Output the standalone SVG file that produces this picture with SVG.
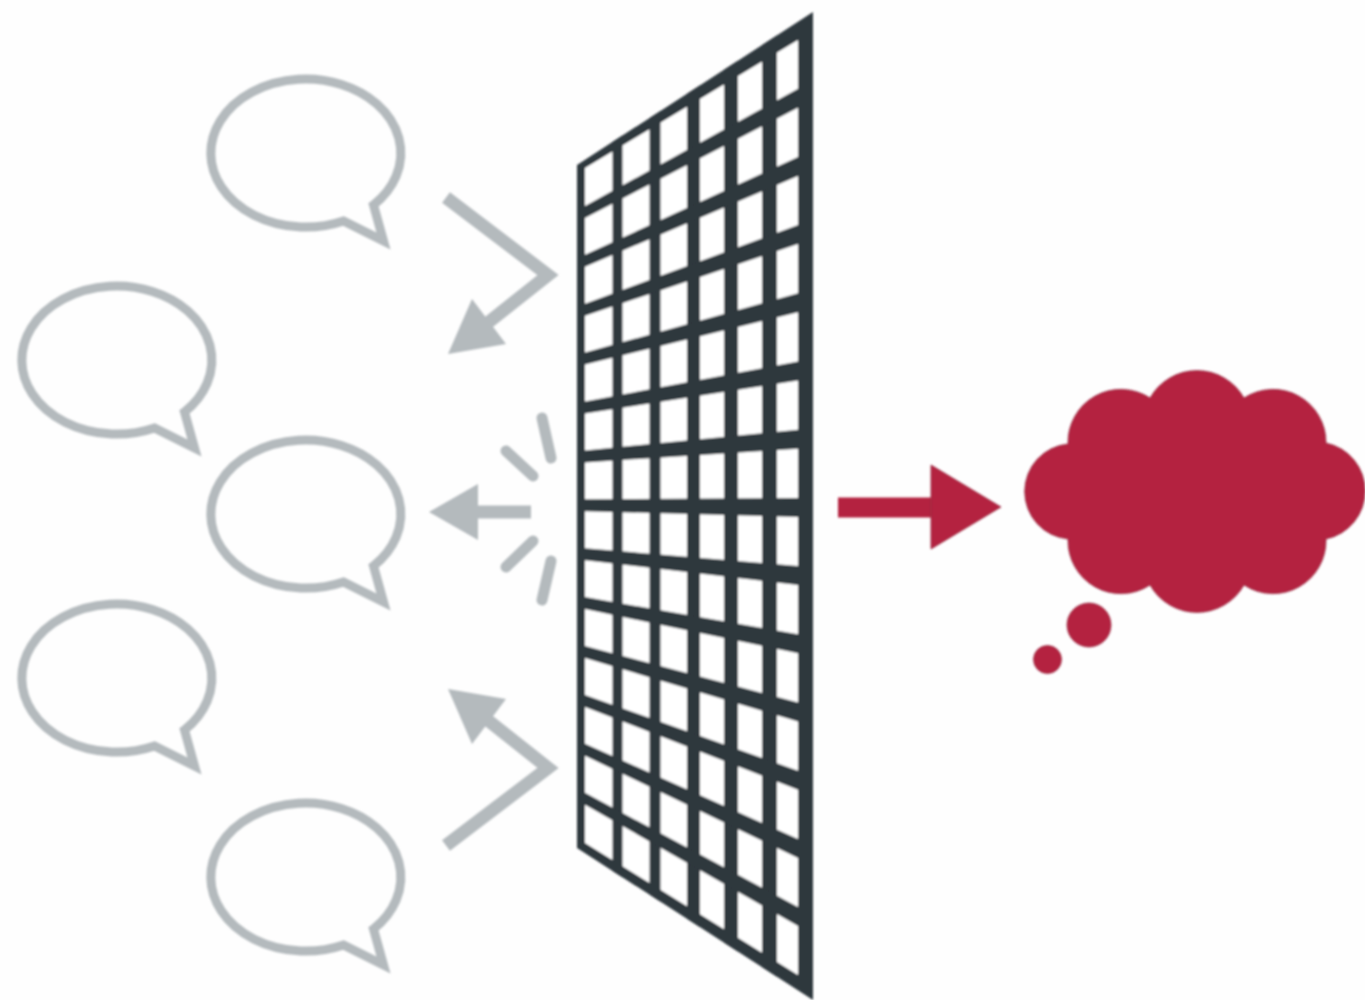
<svg xmlns="http://www.w3.org/2000/svg" width="1365" height="1000" viewBox="0 0 1365 1000">
<style>
.bubble{fill:none;stroke:#b4babd;stroke-width:9;stroke-linejoin:miter;stroke-miterlimit:10}
.shaft{fill:none;stroke:#b4babd;stroke-width:13;stroke-linejoin:miter;stroke-miterlimit:10}
.head{fill:#b4babd;stroke:none}
.dash{fill:none;stroke:#b4babd;stroke-width:11;stroke-linecap:round}
.dark{fill:#2e373c}
.red{fill:#b4243f;stroke:#962a42;stroke-width:0.800}
.soft{filter:url(#soften)}
</style>
<defs>
<filter id="soften" x="-2%" y="-2%" width="104%" height="104%"><feGaussianBlur stdDeviation="0.800"/></filter>
<path id="speech" class="bubble" d="M37,68 L77,88 L67,52 A95,74 0 1 0 37,68 Z"/>
<clipPath id="panel"><polygon points="577,165 813,12 813,1000 577,848"/></clipPath>
</defs>
<rect width="1365" height="1000" fill="#fefefe"/>
<g class="soft">
<g id="bubble-1"><use href="#speech" x="306.500" y="153"/></g>
<g id="bubble-2"><use href="#speech" x="117.500" y="360"/></g>
<g id="bubble-3"><use href="#speech" x="306.500" y="514"/></g>
<g id="bubble-4"><use href="#speech" x="117.500" y="678"/></g>
<g id="bubble-5"><use href="#speech" x="306.500" y="877"/></g>
<g id="filter-grid">
<polygon points="585,168 798,40 798,975 585,843" fill="#ffffff"/>
<path class="dark" fill-rule="evenodd" d="M577,165 L813,12 L813,1000 L577,848 Z M585,168 L798,40 L798,975 L585,843 Z"/>
<g class="dark" clip-path="url(#panel)">
<rect x="612.500" y="0" width="10" height="1000"/>
<rect x="649.500" y="0" width="11" height="1000"/>
<rect x="687" y="0" width="13" height="1000"/>
<rect x="724" y="0" width="14" height="1000"/>
<rect x="762" y="0" width="15" height="1000"/>
</g>
<g class="dark">
<polygon points="585,205.900 798,88.700 798,107.700 585,217.900"/>
<polygon points="585,254.800 798,156.900 798,175.900 585,266.800"/>
<polygon points="585,303.700 798,225.100 798,244.100 585,315.700"/>
<polygon points="585,352.600 798,293.300 798,312.300 585,364.600"/>
<polygon points="585,401.500 798,361.500 798,380.500 585,413.500"/>
<polygon points="585,450.400 798,429.700 798,448.700 585,462.400"/>
<polygon points="585,499.300 798,497.900 798,516.900 585,511.300"/>
<polygon points="585,548.200 798,566.100 798,585.100 585,560.200"/>
<polygon points="585,597.100 798,634.300 798,653.300 585,609.100"/>
<polygon points="585,646 798,702.500 798,721.500 585,658"/>
<polygon points="585,694.900 798,770.700 798,789.700 585,706.900"/>
<polygon points="585,743.800 798,838.900 798,857.900 585,755.800"/>
<polygon points="585,792.700 798,907.100 798,926.100 585,804.700"/>
</g>
</g>
<g id="thought-cloud">
<path class="red" d="M1068,444 A53,53 0 0 1 1150,398 A54,54 0 0 1 1244,398 A53,53 0 0 1 1326,443 A49,49 0 0 1 1326,539 A53,53 0 0 1 1244,585 A54,54 0 0 1 1150,585 A53,53 0 0 1 1068,539 A47.700,47.700 0 0 1 1068,444 Z"/>
<circle class="red" cx="1089" cy="625" r="22"/>
<circle class="red" cx="1047.500" cy="659.500" r="14"/>
</g>
<g id="connectors">
<path class="shaft" d="M446,197.500 L548,275 L480,329"/>
<polygon class="head" points="448,354 472,299 506,344"/>
<path class="shaft" d="M446,845.500 L548,768 L480,714"/>
<polygon class="head" points="448,689 472,744 506,699"/>
<path class="shaft" d="M531,512 L470,512"/>
<polygon class="head" points="429,512 478,484 478,540"/>
<line class="dash" x1="542" y1="418" x2="551" y2="458"/>
<line class="dash" x1="506" y1="451" x2="533" y2="476"/>
<line class="dash" x1="533" y1="541" x2="506" y2="567"/>
<line class="dash" x1="551" y1="561" x2="542" y2="600"/>
<path d="M838,507.500 L935,507.500" fill="none" stroke="#b4243f" stroke-width="20"/>
<polygon class="red" points="931,465 1001,507 931,549"/>
</g>
</g>
</svg>
